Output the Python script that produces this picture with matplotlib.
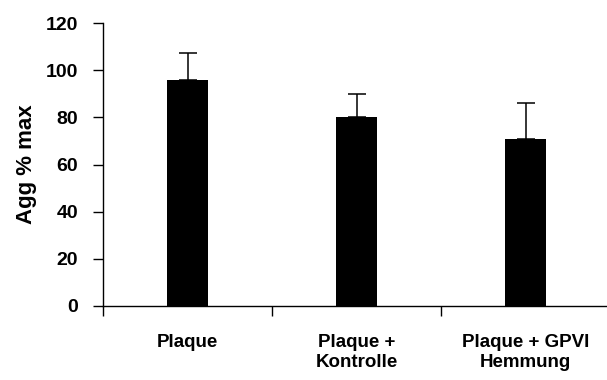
import matplotlib.pyplot as plt
import numpy as np

# Werte
gruppen = ['Plaque', 'Plaque +\nKontrolle', 'Plaque + GPVI\nHemmung']
agg_mittel = [95.8, 80.0, 70.7]
agg_fehler = [11.6, 9.9, 15.3]
y_ticks = [0, 20, 40, 60, 80, 100, 120]

plt.rcParams['font.family'] = ['Liberation Sans', 'DejaVu Sans']
plt.rcParams['font.weight'] = 'bold'

fig = plt.figure(figsize=(6.07, 3.80), dpi=100)
ax = fig.add_axes([103 / 607, 1 - 306 / 380, 507 / 607, 283 / 380])

x = np.arange(len(gruppen))
ax.bar(x, agg_mittel, width=0.24, color='black', zorder=2)
# nur obere Fehlerbalken
ax.errorbar(x, agg_mittel, yerr=[np.zeros(len(x)), agg_fehler], fmt='none',
            ecolor='black', elinewidth=1.1, capsize=6.5, capthick=1.1, zorder=1)

ax.set_xlim(-0.5, 2.5)
ax.set_ylim(0, 120)
ax.set_yticks(y_ticks)
ax.set_yticklabels([str(v) for v in y_ticks], fontsize=14, fontweight='bold')

# Kategorien als Beschriftung, Striche zwischen den Gruppen
ax.set_xticks([-0.5, 0.5, 1.5, 2.5])
ax.set_xticklabels([])
ax.set_xticks(x, minor=True)
ax.set_xticklabels(gruppen, minor=True, fontsize=13.5, fontweight='bold',
                   linespacing=1.25)
ax.tick_params(axis='x', which='minor', length=0, pad=20)
ax.tick_params(axis='x', which='major', length=7, width=1, direction='out')
ax.tick_params(axis='y', length=7, width=1, direction='out', pad=11)

ax.spines['top'].set_visible(False)
ax.spines['right'].set_visible(False)
ax.spines['left'].set_linewidth(1)
ax.spines['bottom'].set_linewidth(1)

ax.set_ylabel('Agg % max', fontsize=16, fontweight='bold', labelpad=6)

fig.savefig('out.png', dpi=100)
